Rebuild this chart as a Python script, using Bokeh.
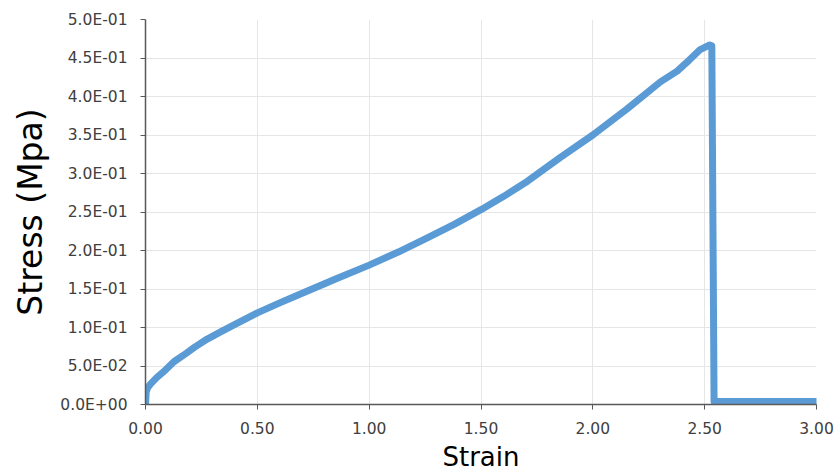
from bokeh.plotting import figure
from bokeh.embed import file_html
from bokeh.resources import INLINE
from bokeh.models import NumeralTickFormatter, FixedTicker, Range1d

strain = [0.0, 0.003, 0.01, 0.022, 0.05, 0.09, 0.127, 0.17, 0.22, 0.276, 0.34, 0.4, 0.45,
          0.5, 0.6, 0.724, 0.85, 1.0, 1.13, 1.26, 1.38, 1.5, 1.6, 1.708, 1.855, 2.0,
          2.154, 2.302, 2.377, 2.43, 2.48, 2.523, 2.532, 2.542, 3.0]
stress = [0.0, 0.016, 0.022, 0.0265, 0.035, 0.045, 0.0555, 0.064, 0.0745, 0.085, 0.095, 0.104, 0.1115,
          0.119, 0.132, 0.1475, 0.163, 0.181, 0.198, 0.2165, 0.234, 0.253, 0.270, 0.290, 0.321, 0.350,
          0.384, 0.419, 0.433, 0.447, 0.461, 0.467, 0.466, 0.004, 0.004]

x_ticks = [0.0, 0.5, 1.0, 1.5, 2.0, 2.5, 3.0]
y_ticks = [0.0, 0.05, 0.10, 0.15, 0.20, 0.25, 0.30, 0.35, 0.40, 0.45, 0.50]
y_tick_labels = ["0.0E+00", "5.0E-02", "1.0E-01", "1.5E-01", "2.0E-01", "2.5E-01",
                 "3.0E-01", "3.5E-01", "4.0E-01", "4.5E-01", "5.0E-01"]

p = figure(width=840, height=476, output_backend="svg", toolbar_location=None,
           x_range=Range1d(0, 3.0), y_range=Range1d(0, 0.5),
           min_border_left=145, min_border_right=24, min_border_top=19, min_border_bottom=72)
p.outline_line_color = None
p.background_fill_color = "white"
p.border_fill_color = "white"

p.line(strain, stress, line_color="#5B9BD5", line_width=7, line_join="round", line_cap="round")

font = "DejaVu Sans"
tick_color = "#404040"

p.xaxis.ticker = FixedTicker(ticks=x_ticks)
p.xaxis.formatter = NumeralTickFormatter(format="0.00")
p.yaxis.ticker = FixedTicker(ticks=y_ticks)
p.yaxis.major_label_overrides = {t: l for t, l in zip(y_ticks, y_tick_labels)}

for ax in (p.xaxis, p.yaxis):
    ax.axis_line_color = "#595959"
    ax.axis_line_width = 1.5
    ax.major_tick_line_color = "#595959"
    ax.major_tick_in = 0
    ax.major_tick_out = 5
    ax.minor_tick_line_color = None
    ax.major_label_text_font = font
    ax.major_label_text_font_size = "15.5px"
    ax.major_label_text_color = tick_color
    ax.axis_label_text_font = font
    ax.axis_label_text_font_style = "normal"
    ax.axis_label_text_color = "#000000"

p.xaxis.axis_label = "Strain"
p.xaxis.axis_label_text_font_size = "26px"
p.xaxis.major_label_standoff = 12
p.xaxis.axis_label_standoff = 5

p.yaxis.axis_label = "Stress (Mpa)"
p.yaxis.axis_label_text_font_size = "33px"
p.yaxis.major_label_standoff = 13
p.yaxis.axis_label_standoff = 7

p.xgrid.grid_line_color = "#E6E6E6"
p.ygrid.grid_line_color = "#E6E6E6"
p.xgrid.ticker = FixedTicker(ticks=x_ticks)
p.ygrid.ticker = FixedTicker(ticks=y_ticks)

open("out.html", "w").write(file_html(p, INLINE))
